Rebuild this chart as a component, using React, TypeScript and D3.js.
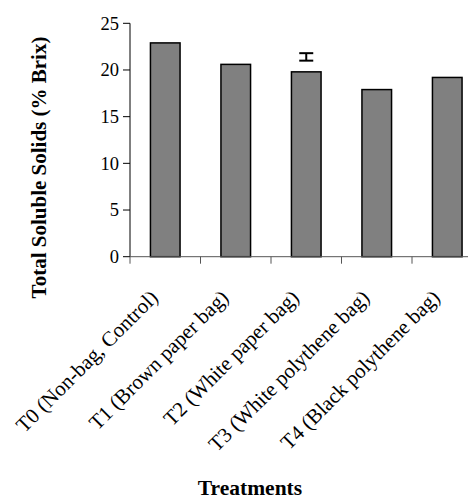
import React from "react";
import * as d3 from "d3";

const categories = [
  "T0 (Non-bag, Control)",
  "T1 (Brown paper bag)",
  "T2 (White paper bag)",
  "T3 (White polythene bag)",
  "T4 (Black polythene bag)",
];
const values = [22.9, 20.6, 19.8, 17.9, 19.2];
const yTicks = [0, 5, 10, 15, 20, 25];
// LSD-style error bar drawn over T2
const errorCategory = "T2 (White paper bag)";
const errorLow = [21.0];
const errorHigh = [21.8];

const W = 468;
const H = 499;
const left = 130;
const right = 482.5;
const top = 23.3;
const bottom = 256.7;
const serif = "'Liberation Serif', 'Times New Roman', Times, serif";

export default function App() {
  const x = d3
    .scaleBand<string>()
    .domain(categories)
    .range([left, right])
    .paddingInner(0.58)
    .paddingOuter(0.29);
  const y = d3.scaleLinear().domain([0, 25]).range([bottom, top]);
  const step = x.step();
  const ex = (x(errorCategory) ?? 0) + x.bandwidth() / 2;

  return (
    <svg
      width={W}
      height={H}
      style={{ position: "absolute", left: 0, top: 0, background: "#fff" }}
    >
      {categories.map((c, i) => (
        <rect
          key={c}
          x={x(c)}
          y={y(values[i])}
          width={x.bandwidth()}
          height={y(0) - y(values[i])}
          fill="#808080"
          stroke="#000"
          strokeWidth={1.5}
        />
      ))}
      <g stroke="#000" strokeWidth={2}>
        <line x1={ex} x2={ex} y1={y(errorLow[0])} y2={y(errorHigh[0])} />
        <line x1={ex - 7} x2={ex + 7} y1={y(errorLow[0])} y2={y(errorLow[0])} />
        <line x1={ex - 7} x2={ex + 7} y1={y(errorHigh[0])} y2={y(errorHigh[0])} />
      </g>
      <line x1={left} x2={left} y1={top} y2={bottom} stroke="#000" strokeWidth={1} />
      {yTicks.map((t) => (
        <g key={t}>
          <line x1={left - 7} x2={left} y1={y(t)} y2={y(t)} stroke="#000" strokeWidth={1} />
          <text
            x={left - 11}
            y={y(t)}
            dy="0.35em"
            textAnchor="end"
            fontSize={18.5}
            fontFamily={serif}
            fill="#000"
          >
            {t}
          </text>
        </g>
      ))}
      <line x1={left} x2={right} y1={bottom} y2={bottom} stroke="#555" strokeWidth={1} />
      {categories.map((c, i) => (
        <line
          key={"t" + c}
          x1={left + i * step}
          x2={left + i * step}
          y1={bottom}
          y2={bottom + 7}
          stroke="#555"
          strokeWidth={1}
        />
      ))}
      {categories.map((c) => {
        const cx = (x(c) ?? 0) + x.bandwidth() / 2;
        return (
          <text
            key={"l" + c}
            transform={`translate(${cx - 6},${bottom + 42}) rotate(-45)`}
            textAnchor="end"
            fontSize={21}
            fontFamily={serif}
            fill="#000"
          >
            {c}
          </text>
        );
      })}
      <text
        transform={`translate(46,167.5) rotate(-90)`}
        textAnchor="middle"
        fontSize={21}
        fontWeight="bold"
        fontFamily={serif}
        fill="#000"
      >
        Total Soluble Solids (% Brix)
      </text>
      <text
        x={250}
        y={495}
        textAnchor="middle"
        fontSize={21.5}
        fontWeight="bold"
        fontFamily={serif}
        fill="#000"
      >
        Treatments
      </text>
    </svg>
  );
}
